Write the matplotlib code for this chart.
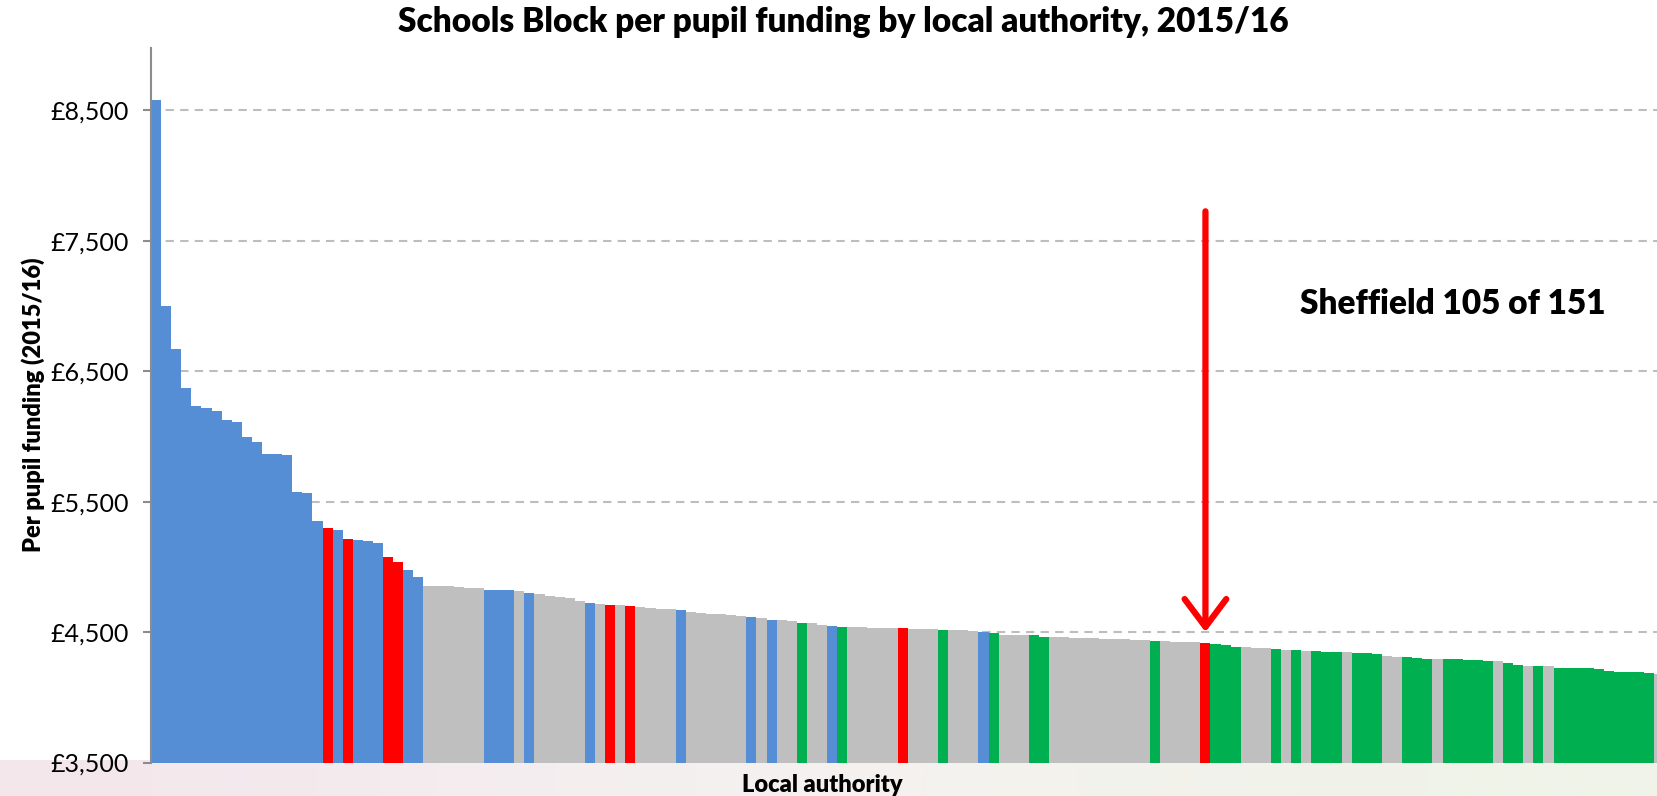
import numpy as np
import matplotlib.pyplot as plt
from matplotlib.ticker import FixedLocator, FuncFormatter

# per pupil funding, sorted high to low (the right end of the picture is cut off)
funding = [
    8582, 7003, 6671, 6373, 6236, 6216, 6195, 6123, 6113, 5993,
    5959, 5866, 5863, 5860, 5575, 5568, 5349, 5301, 5284, 5212,
    5202, 5195, 5182, 5079, 5038, 4979, 4921, 4855, 4855, 4850,
    4842, 4840, 4835, 4826, 4826, 4825, 4817, 4797, 4791, 4778,
    4771, 4761, 4740, 4720, 4712, 4709, 4704, 4702, 4694, 4683,
    4679, 4676, 4669, 4651, 4643, 4641, 4638, 4633, 4623, 4615,
    4610, 4592, 4592, 4587, 4569, 4569, 4554, 4546, 4541, 4538,
    4536, 4533, 4531, 4528, 4528, 4526, 4524, 4522, 4518, 4515,
    4513, 4510, 4500, 4492, 4480, 4479, 4478, 4475, 4464, 4462,
    4459, 4457, 4454, 4452, 4449, 4446, 4444, 4439, 4436, 4431,
    4428, 4426, 4423, 4421, 4418, 4406, 4400, 4388, 4383, 4380,
    4375, 4367, 4365, 4360, 4357, 4354, 4349, 4347, 4344, 4339,
    4337, 4334, 4319, 4311, 4306, 4298, 4296, 4293, 4291, 4291,
    4288, 4285, 4280, 4278, 4265, 4250, 4242, 4237, 4237, 4227,
    4224, 4224, 4224, 4219, 4199, 4196, 4196, 4194, 4186, 4181,
]

# group of each authority: B blue, R red, G green, N grey
groups = ("BBBBBBBBBBBBBBBBB"
          "RBRBBBRRBB"
          "NNNNNNBBBNBNNNNNBNRNR"
          "NNNNBNNNNNNBNBNNGNNBG"
          "NNNNNRNNNGNNNBGNNNGG"
          "NNNNNNNNNNGNNNNRGGGNNNGNGNGGGN"
          "GGGNNGGGNGGGGGNGGNGNGGGGGGGGGGN")

yticks = [3500, 4500, 5500, 6500, 7500, 8500]
sheffield = 104
n_total = 151

colours = {"B": "#558ED5", "R": "#FF0000", "G": "#00B050", "N": "#BFBFBF"}

plt.rcParams['font.family'] = ['Lato', 'DejaVu Sans']

fig = plt.figure(figsize=(16.58, 7.96), dpi=100)

# faint band under the chart
bg = fig.add_axes([0, 0, 1, 0.045], zorder=0)
grad = np.array([[[243, 231, 236], [245, 240, 241], [244, 243, 238], [239, 243, 232]]]) / 255
bg.imshow(grad, aspect='auto', interpolation='bicubic', extent=(0, 1, 0, 1))
bg.set_axis_off()

ax = fig.add_axes([151/1658, 1 - 762.5/796, 1 - 151/1658, (762.5 - 47.6)/796], zorder=1)
ax.patch.set_alpha(0)

x = np.arange(len(funding))
ax.bar(x, np.array(funding) - 3500, bottom=3500, width=1.0,
       color=[colours[g] for g in groups], linewidth=0)

ax.set_xlim(-0.5, 148.85)
ax.set_ylim(3500, 8980)
ax.set_axisbelow(True)
ax.yaxis.set_major_locator(FixedLocator(yticks))
ax.yaxis.set_major_formatter(FuncFormatter(lambda v, p: "£{:,.0f}".format(v)))
ax.grid(axis='y', color='#BDBDBD', lw=1.5, ls=(0, (4, 3)))
ax.set_xticks([])
ax.tick_params(axis='y', labelsize=18, length=6, width=1.5, color='#8C8C8C', pad=10)

for s in ['top', 'right', 'bottom']:
    ax.spines[s].set_visible(False)
ax.spines['left'].set_color('#8C8C8C')
ax.spines['left'].set_linewidth(1.5)

ax.set_ylabel("Per pupil funding (2015/16)", fontsize=17, fontweight='heavy', labelpad=4)
fig.text(822/1658, 1 - 785/796, "Local authority", fontsize=17, fontweight='heavy',
         ha='center', va='center')
fig.text(843/1658, 1 - 22/796, "Schools Block per pupil funding by local authority, 2015/16",
         fontsize=24, fontweight='heavy', ha='center', va='center')

ax.annotate("", xy=(sheffield, 4500), xytext=(sheffield, 7725),
            arrowprops=dict(arrowstyle="->,head_length=1.0,head_width=0.75",
                            mutation_scale=20, color='#FF0000', lw=4.5,
                            shrinkA=0, shrinkB=0))
ax.text(128.5, 7013, "Sheffield {} of {}".format(sheffield + 1, n_total),
        fontsize=24, fontweight='heavy', ha='center', va='center')

fig.savefig("out.png", dpi=100)
